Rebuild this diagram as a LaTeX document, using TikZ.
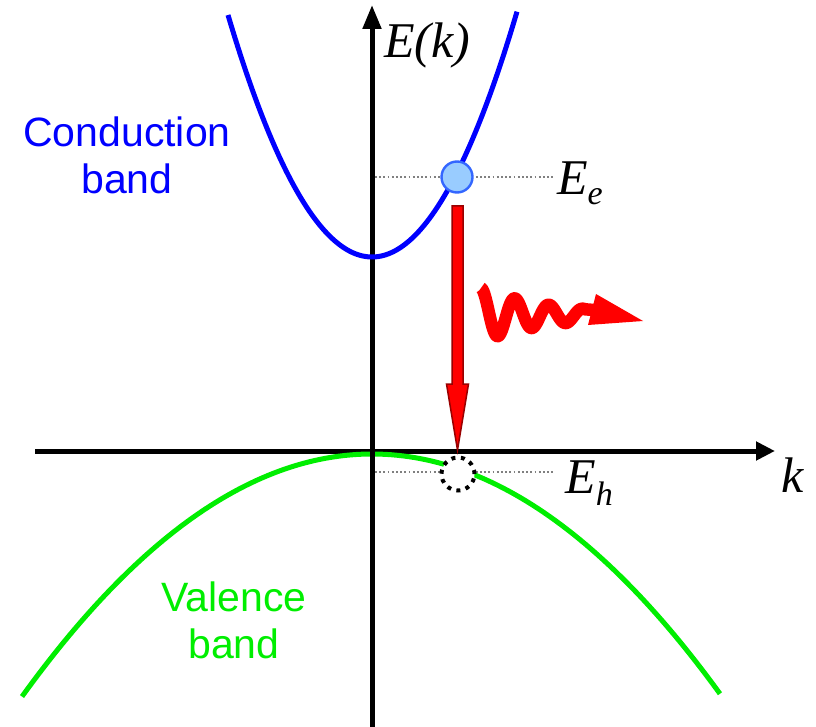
\documentclass[tikz,border=0pt]{standalone}
\usepackage{fontspec}
\setmainfont{Liberation Serif}
\newfontfamily\arialfont{Liberation Sans}
\usetikzlibrary{arrows.meta}
\definecolor{cband}{RGB}{0,0,255}
\definecolor{vband}{RGB}{0,238,0}
\definecolor{eball}{RGB}{153,204,255}
\definecolor{eballedge}{RGB}{51,102,255}
\definecolor{darkred}{RGB}{153,0,0}
\tikzset{
  axis/.style={line width=5pt, draw=black},
  bandline/.style={line width=5pt},
  guide/.style={draw=gray, line width=1.8pt, dash pattern=on 1.8pt off 2.4pt},
  bandlabel/.style={font=\arialfont\fontsize{41}{47}\selectfont, align=center, inner sep=0pt},
  mathlabel/.style={font=\fontsize{50}{50}\selectfont\itshape, inner sep=0pt, anchor=base west},
}
\begin{document}
\begin{tikzpicture}[x=1pt,y=-1pt]
\useasboundingbox (0,0) rectangle (816,727);
% axes
\coordinate (yb) at (372,727);
\coordinate (yt) at (372,5);
\coordinate (xl) at (35,451);
\coordinate (xr) at (775,451);
\draw[axis,-{Triangle[length=19pt,width=18pt]}] (xl) -- (xr);
% guide lines
\coordinate (ge1) at (375,177);
\coordinate (ge2) at (553,177);
\coordinate (gh1) at (375,472);
\coordinate (gh2) at (553,472);
\draw[guide] (ge1) -- (ge2);
\draw[guide] (gh1) -- (gh2);
% bands
\draw[bandline, vband] plot[domain=-35:34.8, samples=120] ({372+10*\x},{454+0.198*\x*\x});
\draw[axis,-{Triangle[length=24pt,width=18pt]}] (yb) -- (yt);
\draw[bandline, cband] plot[domain=-14.4:14.5, samples=120] ({372+10*\x},{257-1.167*\x*\x});
% electron and hole
\node[circle, minimum size=31pt, inner sep=0pt, fill=eball, draw=eballedge, line width=2.4pt] (elec) at (457,177) {};
\node[circle, minimum size=33pt, inner sep=0pt, fill=white, draw=black, line width=4pt, dash pattern=on 4pt off 5.5pt] (hole) at (458,474) {};
% transition arrow
\draw[fill=red, draw=darkred, line width=1.5pt, line join=miter]
  (452,206) -- (463,206) -- (463,384) -- (468.5,384) -- (457.5,450) -- (446.5,384) -- (452,384) -- cycle;
% photon
\draw[red, line width=12.5pt, line join=round]
  plot[domain=0:104, samples=140] ({481+\x},{315-27*exp(-\x/70)*cos(10.588*\x)}) -- (594,310);
\fill[red] (596,294) -- (643,321) -- (588,325) -- cycle;
% labels
\node[bandlabel, cband] (cbl) at (127,155) {Conduction\\band};
\node[bandlabel, vband] (vbl) at (234,620) {Valence\\band};
\node[mathlabel] (ek) at (384,58) {E(k)};
\node[mathlabel] (ee) at (557,195) {E\raisebox{-10pt}{\fontsize{34}{34}\selectfont e}};
\node[mathlabel] (eh) at (565,493) {E\raisebox{-12pt}{\fontsize{34}{34}\selectfont h}};
\node[mathlabel] (kl) at (781,492) {k};
\end{tikzpicture}
\end{document}
